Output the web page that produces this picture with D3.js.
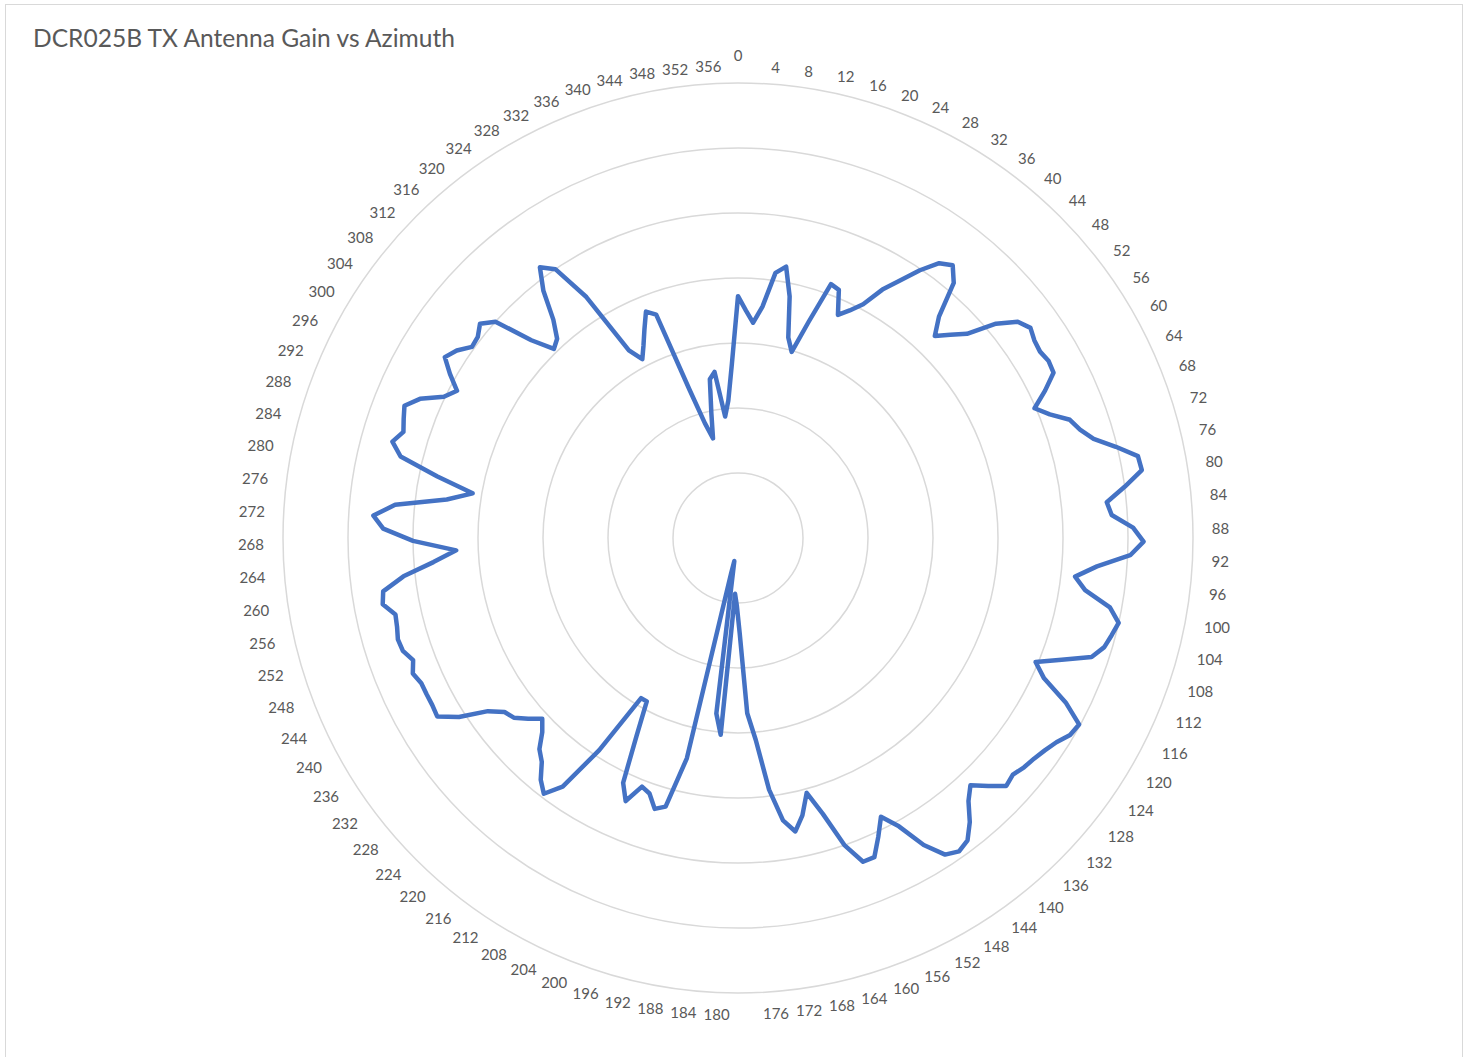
<!DOCTYPE html>
<html>
<head>
<meta charset="utf-8">
<script src="https://cdn.jsdelivr.net/npm/d3@7"></script>
<style>
  html, body { margin: 0; padding: 0; background: #ffffff; }
  svg { display: block; }
</style>
</head>
<body>
<svg id="chart" width="1466" height="1057"></svg>
<script>
// Azimuth (degrees) of each measurement, one every 2 degrees
const azimuthDeg = [
  0, 2, 4, 6, 8, 10, 12, 14, 16, 18, 20, 22, 24, 26, 28, 30, 32, 34, 36, 38,
  40, 42, 44, 46, 48, 50, 52, 54, 56, 58, 60, 62, 64, 66, 68, 70, 72, 74, 76, 78,
  80, 82, 84, 86, 88, 90, 92, 94, 96, 98, 100, 102, 104, 106, 108, 110, 112, 114, 116, 118,
  120, 122, 124, 126, 128, 130, 132, 134, 136, 138, 140, 142, 144, 146, 148, 150, 152, 154, 156, 158,
  160, 162, 164, 166, 168, 170, 172, 174, 176, 178, 180, 182, 184, 186, 188, 190, 192, 194, 196, 198,
  200, 202, 204, 206, 208, 210, 212, 214, 216, 218, 220, 222, 224, 226, 228, 230, 232, 234, 236, 238,
  240, 242, 244, 246, 248, 250, 252, 254, 256, 258, 260, 262, 264, 266, 268, 270, 272, 274, 276, 278,
  280, 282, 284, 286, 288, 290, 292, 294, 296, 298, 300, 302, 304, 306, 308, 310, 312, 314, 316, 318,
  320, 322, 324, 326, 328, 330, 332, 334, 336, 338, 340, 342, 344, 346, 348, 350, 352, 354, 356
];

// TX antenna gain (dB) at each azimuth
const gainDb = [
  -16.4, -17.5, -18.4, -17.1, -14.4, -13.8, -16.0, -19.1, -20.1, -17.5,
  -14.2, -14.4, -16.2, -15.5, -14.6, -12.9, -11.6, -10.1, -8.8, -8.3,
  -9.3, -12.0, -13.3, -12.4, -11.4, -9.2, -7.8, -7.3, -7.6, -7.7,
  -7.5, -7.6, -8.8, -10.1, -9.2, -7.9, -7.4, -6.6, -5.1, -3.6,
  -3.5, -5.0, -6.5, -6.2, -4.6, -3.8, -4.8, -7.3, -8.9, -8.0,
  -5.9, -5.0, -5.3, -5.6, -6.3, -8.4, -10.2, -9.1, -6.8, -5.1,
  -5.3, -5.9, -6.3, -6.6, -6.8, -7.1, -6.9, -7.9, -8.9, -8.1,
  -6.8, -5.8, -5.5, -5.9, -7.4, -9.6, -10.9, -9.6, -8.3, -8.3,
  -10.0, -12.8, -14.7, -13.1, -12.0, -13.0, -15.5, -19.4, -21.5, -27.7,
  -29.8, -30.7, -19.8, -21.4, -33.2, -32.2, -17.6, -13.6, -13.2, -14.2,
  -14.5, -13.0, -14.2, -17.9, -20.6, -20.6, -15.5, -11.6, -10.3, -11.0,
  -12.1, -12.7, -13.8, -14.5, -13.7, -12.9, -12.6, -11.6, -9.5, -8.1,
  -8.2, -8.2, -8.2, -7.9, -8.3, -7.8, -7.7, -7.9, -8.0, -7.2,
  -7.4, -9.1, -11.5, -13.3, -10.0, -7.7, -6.9, -8.5, -12.4, -14.3,
  -11.4, -8.3, -7.4, -8.0, -7.7, -7.4, -8.3, -9.9, -10.6, -9.5,
  -8.5, -9.0, -9.8, -9.7, -9.2, -10.0, -13.0, -14.7, -14.3, -13.0,
  -10.8, -9.2, -10.0, -13.1, -18.3, -19.4, -18.5, -17.4, -16.2, -16.7,
  -23.0, -25.8, -27.1, -25.2, -22.6, -22.1, -25.6, -24.4, -21.6
];

// Value axis: range and gridline values (axis labels hidden)
const gainDomain = [-35, 0];
const gridValues = [-30, -25, -20, -15, -10, -5, 0];

const titleText = "DCR025B TX Antenna Gain vs Azimuth";

const svg = d3.select("#chart");
const W = 1466, H = 1057;
const cx = 738, cy = 538;
const outerR = 455;

// Chart frame (runs past the bottom edge of the page)
svg.append("rect")
  .attr("x", 5.5).attr("y", 4.5)
  .attr("width", W - 9).attr("height", H + 10)
  .attr("fill", "#ffffff")
  .attr("stroke", "#d9d9d9")
  .attr("stroke-width", 1);

// Title, fitted to its width
const title = svg.append("text")
  .attr("x", 33).attr("y", 47)
  .attr("fill", "#595959")
  .style("font-family", "Lato, 'Open Sans', sans-serif")
  .style("font-size", "21px")
  .text(titleText);
const tw = title.node().getComputedTextLength();
title.style("font-size", (21 * 422 / tw).toFixed(2) + "px");

const r = d3.scaleLinear().domain(gainDomain).range([0, outerR]);
const angle = d3.scaleLinear().domain([0, azimuthDeg.length]).range([0, 2 * Math.PI]);

const g = svg.append("g").attr("transform", `translate(${cx},${cy})`);

// Circular gridlines
g.selectAll("circle.grid")
  .data(gridValues)
  .join("circle")
  .attr("class", "grid")
  .attr("r", d => r(d))
  .attr("fill", "none")
  .attr("stroke", "#d9d9d9")
  .attr("stroke-width", 1.5);

// Category labels: every second azimuth
const labelR = 474;
const labelData = azimuthDeg.map((d, i) => ({ d, i })).filter(o => o.i % 2 === 0);
g.selectAll("text.cat")
  .data(labelData)
  .join("text")
  .attr("class", "cat")
  .each(function (o) {
    const a = angle(o.i);
    const sel = d3.select(this);
    if (o.i === 0) {
      sel.attr("x", 0).attr("y", -labelR - 9).attr("text-anchor", "middle");
    } else {
      sel.attr("x", labelR * Math.sin(a))
         .attr("y", -labelR * Math.cos(a) + 2)
         .attr("text-anchor", a < Math.PI ? "start" : "end");
    }
  })
  .attr("dominant-baseline", "central")
  .attr("fill", "#595959")
  .style("font-family", "Lato, 'Open Sans', sans-serif")
  .style("font-size", "15px")
  .text(o => o.d);

// Gain trace
const line = d3.lineRadial()
  .angle((d, i) => angle(i))
  .radius(d => r(d))
  .curve(d3.curveLinearClosed);

g.append("path")
  .datum(gainDb)
  .attr("d", line)
  .attr("fill", "none")
  .attr("stroke", "#4472c4")
  .attr("stroke-width", 4.5)
  .attr("stroke-linejoin", "round")
  .attr("stroke-linecap", "round");
</script>
</body>
</html>
